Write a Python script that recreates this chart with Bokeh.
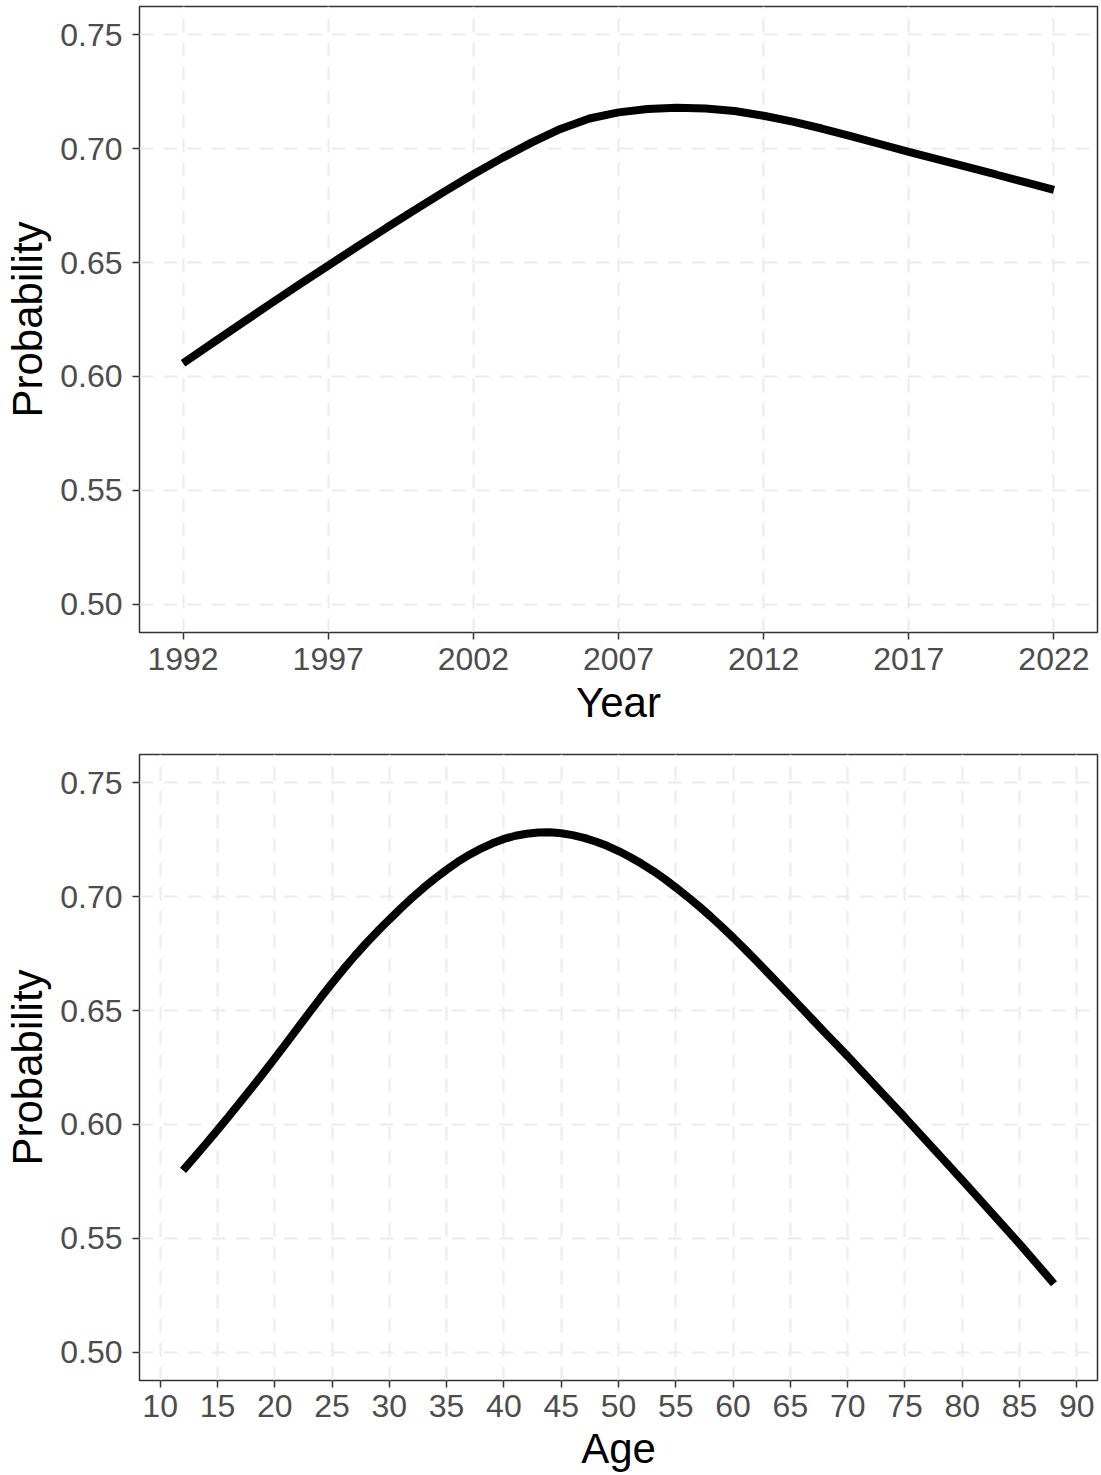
from bokeh.plotting import figure
from bokeh.layouts import column
from bokeh.models import Range1d, FixedTicker, PrintfTickFormatter
from bokeh.embed import file_html
from bokeh.resources import INLINE

# ---- data ----
years = list(range(1992, 2023))
year_prob = [0.6058, 0.6145, 0.6232, 0.6318, 0.6403, 0.6487, 0.6570, 0.6652,
             0.6733, 0.6812, 0.6888, 0.6960, 0.7027, 0.7087, 0.7133, 0.7160,
             0.7175, 0.7180, 0.7177, 0.7166, 0.7145, 0.7119, 0.7089, 0.7056,
             0.7021, 0.6986, 0.6953, 0.6920, 0.6887, 0.6853, 0.6819]

ages = list(range(12, 89))
age_prob = [0.5798, 0.5856, 0.5915, 0.5975, 0.6036, 0.6098, 0.6161, 0.6225,
            0.6290, 0.6356, 0.6423, 0.6490, 0.6556, 0.6620, 0.6682, 0.6741,
            0.6797, 0.6850, 0.6900, 0.6949, 0.6996, 0.7040, 0.7081, 0.7119,
            0.7154, 0.7185, 0.7212, 0.7235, 0.7254, 0.7268, 0.7277, 0.7282,
            0.7283, 0.7279, 0.7271, 0.7259, 0.7243, 0.7224, 0.7201, 0.7175,
            0.7146, 0.7114, 0.7079, 0.7041, 0.7001, 0.6959, 0.6915, 0.6869,
            0.6821, 0.6771, 0.6720, 0.6668, 0.6616, 0.6563, 0.6510, 0.6457,
            0.6404, 0.6352, 0.6300, 0.6246, 0.6192, 0.6138, 0.6084, 0.6030,
            0.5975, 0.5920, 0.5865, 0.5810, 0.5755, 0.5699, 0.5643, 0.5587,
            0.5531, 0.5475, 0.5417, 0.5359, 0.5300]

y_ticks = [0.50, 0.55, 0.60, 0.65, 0.70, 0.75]
year_ticks = [1992, 1997, 2002, 2007, 2012, 2017, 2022]
age_ticks = list(range(10, 95, 5))

FONT = "Liberation Sans"


def make_panel(x, y, xr, xticks, xlabel, height, top, bottom,
               label_standoff, title_standoff):
    p = figure(width=1099, height=height, output_backend="svg",
               toolbar_location=None,
               x_range=Range1d(*xr), y_range=Range1d(0.4875, 0.7625),
               min_border_left=139, min_border_right=2,
               min_border_top=top, min_border_bottom=bottom,
               background_fill_color="white", border_fill_color="white")
    p.outline_line_color = "#333333"
    p.outline_line_width = 1.5

    for ax in (p.xaxis[0], p.yaxis[0]):
        ax.axis_line_color = None
        ax.major_tick_line_color = "#333333"
        ax.major_tick_line_width = 1.5
        ax.major_tick_out = 7
        ax.major_tick_in = 0
        ax.minor_tick_line_color = None
        ax.major_label_text_font = FONT
        ax.major_label_text_font_size = "32px"
        ax.major_label_text_color = "#4D4D4D"
        ax.axis_label_text_font = FONT
        ax.axis_label_text_font_size = "42px"
        ax.axis_label_text_font_style = "normal"
        ax.axis_label_text_color = "black"

    p.xaxis.ticker = FixedTicker(ticks=xticks)
    p.yaxis.ticker = FixedTicker(ticks=y_ticks)
    p.yaxis.formatter = PrintfTickFormatter(format="%.2f")
    p.xaxis.axis_label = xlabel
    p.yaxis.axis_label = "Probability"
    p.xaxis.major_label_standoff = label_standoff
    p.yaxis.major_label_standoff = 10
    p.xaxis.axis_label_standoff = title_standoff
    p.yaxis.axis_label_standoff = 6

    for g in (p.xgrid[0], p.ygrid[0]):
        g.grid_line_color = "#EBEBEB"
        g.grid_line_width = 2
        g.grid_line_dash = "14 10"
        g.minor_grid_line_color = None

    p.line(x, y, line_color="black", line_width=8)
    return p


p1 = make_panel(years, year_prob, (1990.5, 2023.5), year_ticks, "Year",
                height=742, top=6, bottom=110, label_standoff=8,
                title_standoff=6)
p2 = make_panel(ages, age_prob, (8.2, 91.8), age_ticks, "Age",
                height=733, top=12, bottom=95, label_standoff=7,
                title_standoff=5)

layout = column(p1, p2, spacing=0)
open("out.html", "w").write(file_html(layout, INLINE))
